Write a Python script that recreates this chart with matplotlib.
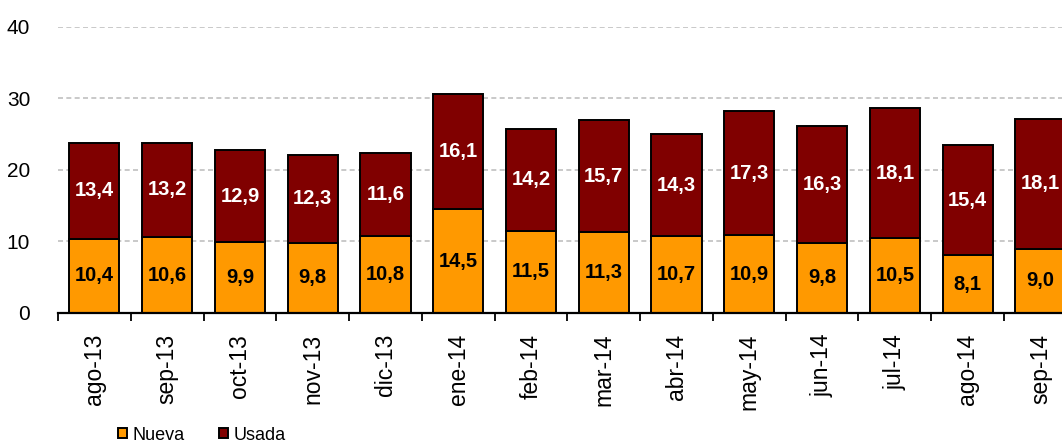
import matplotlib
matplotlib.use("Agg")
import matplotlib.pyplot as plt
import numpy as np

categories = ["ago-13", "sep-13", "oct-13", "nov-13", "dic-13", "ene-14", "feb-14",
              "mar-14", "abr-14", "may-14", "jun-14", "jul-14", "ago-14", "sep-14"]
nueva = [10.4, 10.6, 9.9, 9.8, 10.8, 14.5, 11.5, 11.3, 10.7, 10.9, 9.8, 10.5, 8.1, 9.0]
usada = [13.4, 13.2, 12.9, 12.3, 11.6, 16.1, 14.2, 15.7, 14.3, 17.3, 16.3, 18.1, 15.4, 18.1]
yticks = [0, 10, 20, 30, 40]

plt.rcParams['font.family'] = ['Liberation Sans', 'DejaVu Sans']

fig = plt.figure(figsize=(10.62, 4.43), dpi=100)
ax = fig.add_axes([0.0546, 0.2935, 0.9593, 0.6456])

x = np.arange(len(categories))
w = 0.69
c_nueva = "#FF9900"
c_usada = "#800000"
b1 = ax.bar(x, nueva, w, color=c_nueva, edgecolor="black", linewidth=1.4, label="Nueva", zorder=3)
b2 = ax.bar(x, usada, w, bottom=nueva, color=c_usada, edgecolor="black", linewidth=1.4, label="Usada", zorder=3)

for i in range(len(categories)):
    ax.text(x[i], nueva[i] / 2, f"{nueva[i]:.1f}".replace(".", ","), ha="center", va="center",
            fontsize=14.5, fontweight="bold", color="black", zorder=4)
    ax.text(x[i], nueva[i] + usada[i] / 2, f"{usada[i]:.1f}".replace(".", ","), ha="center", va="center",
            fontsize=14.5, fontweight="bold", color="white", zorder=4)

ax.set_xlim(-0.5, len(categories) - 0.5)
ax.set_ylim(0, 40)
ax.set_yticks(yticks)
ax.set_yticklabels([str(v) for v in yticks], fontsize=15)
ax.yaxis.grid(True, linestyle=(0, (3, 2)), color="#C0C0C0", linewidth=1.2, zorder=0)
ax.tick_params(axis="y", length=0, pad=20)

ax.set_xticks(x)
ax.set_xticklabels(categories, rotation=90, fontsize=16.5)
ax.tick_params(axis="x", which="major", length=0, pad=15)
ax.set_xticks(np.arange(-0.5, len(categories), 1), minor=True)
ax.tick_params(axis="x", which="minor", length=6, width=1.3, direction="out", color="black")

for s in ["top", "right", "left"]:
    ax.spines[s].set_visible(False)
ax.spines["bottom"].set_linewidth(1.6)
ax.spines["bottom"].set_zorder(5)

leg = fig.legend(handles=[b1, b2], labels=["Nueva", "Usada"], loc="center",
                 bbox_to_anchor=(0.19, 0.018), ncol=2, frameon=False, fontsize=13,
                 handlelength=0.5, handleheight=0.5, handletextpad=0.3, columnspacing=1.9,
                 borderaxespad=0)

fig.savefig("out.png", dpi=100)
